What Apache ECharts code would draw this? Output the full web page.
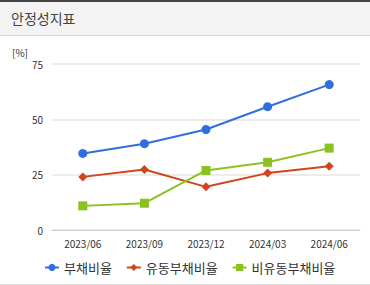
<!DOCTYPE html>
<html>
<head>
<meta charset="utf-8">
<script src="https://cdn.jsdelivr.net/npm/echarts@6/dist/echarts.min.js"></script>
<style>
  html, body { margin: 0; padding: 0; background: #fff; }
  #wrap { width: 370px; height: 285px; position: relative; overflow: hidden; }
  .head {
    height: 33px; border-top: 2px solid #444; border-bottom: 1px solid #d8d8d8;
    background: #f3f3f3; font: 14px "Noto Sans CJK KR", sans-serif; color: #444;
    line-height: 33px; padding-left: 11px; box-sizing: content-box;
  }
  #chart { position: absolute; left: 0; top: 0; width: 370px; height: 285px; }
  .foot { position: absolute; left: 0; right: 0; bottom: 0; height: 1px; background: #d8d8d8; }
</style>
</head>
<body>
<div id="wrap">
  <div class="head">안정성지표</div>
  <div id="chart"></div>
  <div class="foot"></div>
</div>
<script>
// 분기
var quarters = ["2023/06", "2023/09", "2023/12", "2024/03", "2024/06"];
// 부채비율
var debtRatio = [34.6, 39.0, 45.4, 55.7, 65.7];
// 유동부채비율
var currentDebt = [24.0, 27.3, 19.5, 25.7, 28.8];
// 비유동부채비율
var nonCurrentDebt = [10.9, 12.1, 26.9, 30.6, 37.0];
var yTicks = [0, 25, 50, 75];

var font = '"Noto Sans CJK KR", sans-serif';
var myChart = echarts.init(document.getElementById("chart"), null, { renderer: "svg" });

myChart.setOption({
  animation: false,
  grid: { left: 52, right: 10, top: 64, bottom: 55 },
  legend: {
    bottom: 6,
    left: 39,
    itemWidth: 14,
    itemHeight: 9,
    itemGap: 14,
    textStyle: { fontSize: 13, color: "#333", fontFamily: font },
    data: ["부채비율", "유동부채비율", "비유동부채비율"]
  },
  xAxis: {
    type: "category",
    data: quarters,
    axisLine: { lineStyle: { color: "#ccc" } },
    axisTick: { lineStyle: { color: "#ccc" }, length: 4 },
    axisLabel: { fontSize: 10, color: "#333", fontFamily: font, margin: 8 }
  },
  yAxis: {
    type: "value",
    min: yTicks[0],
    max: yTicks[yTicks.length - 1],
    interval: 25,
    name: "[%]",
    nameLocation: "end",
    nameGap: 7,
    nameTextStyle: { fontSize: 10, color: "#333", fontFamily: font, align: "left", padding: [0, 0, 0, -40] },
    axisLine: { show: false },
    axisTick: { show: false },
    axisLabel: { fontSize: 10, color: "#333", fontFamily: font, margin: 9 },
    splitLine: { lineStyle: { color: "#e6e6e6", width: 1.5 } }
  },
  series: [
    {
      name: "부채비율",
      type: "line",
      data: debtRatio,
      color: "#2f6fdb",
      symbol: "circle",
      symbolSize: 9,
      lineStyle: { width: 2 }
    },
    {
      name: "유동부채비율",
      type: "line",
      data: currentDebt,
      color: "#d2441c",
      symbol: "diamond",
      symbolSize: 9,
      lineStyle: { width: 2 }
    },
    {
      name: "비유동부채비율",
      type: "line",
      data: nonCurrentDebt,
      color: "#8cc21f",
      symbol: "rect",
      symbolSize: 9,
      lineStyle: { width: 2 }
    }
  ]
});
</script>
</body>
</html>
